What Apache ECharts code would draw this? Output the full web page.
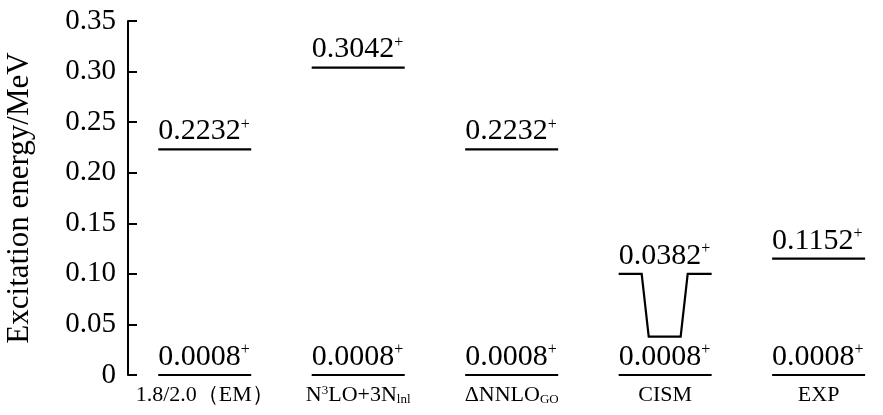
<!DOCTYPE html>
<html>
<head>
<meta charset="utf-8">
<script src="https://cdn.jsdelivr.net/npm/echarts@6/dist/echarts.min.js"></script>
<style>
html,body{margin:0;padding:0;background:#fff;}
#chart{width:883px;height:415px;}
</style>
</head>
<body>
<div id="chart"></div>
<script>
// ---- data ----
const categories = ['1.8/2.0（EM）', 'N{sup|3}LO+3N{sub|lnl}', 'ΔNNLO{sub|GO}', 'CISM', 'EXP'];
const groundEnergy = [0.000, 0.000, 0.000, 0.000, 0.000];
const groundSpin = ['8', '8', '8', '8', '8'];
const excitedEnergy = [0.223, 0.304, 0.223, 0.038, 0.115];
const excitedSpin = ['2', '2', '2', '2', '2'];
const cismLabelLevel = 0.1;   // CISM excited label is drawn raised, connected to its true level
const yTicks = [0, 0.05, 0.10, 0.15, 0.20, 0.25, 0.30, 0.35];

const FONT = '"Liberation Serif", "Times New Roman", serif';

const levelData = [];
for (let i = 0; i < categories.length; i++) {
  levelData.push([i, groundEnergy[i], groundSpin[i], groundEnergy[i]]);
  levelData.push([i, excitedEnergy[i], excitedSpin[i], i === 3 ? cismLabelLevel : excitedEnergy[i]]);
}

const chart = echarts.init(document.getElementById('chart'), null, {renderer: 'canvas'});

function renderItem(params, api) {
  const xi = api.value(0);
  const e = api.value(1);
  const spin = levelData[params.dataIndex][2];
  const shown = api.value(3);
  const p = api.coord([xi, shown]);
  const unit = api.size([1, 0])[0];
  const half = unit * 0.303;
  const children = [];
  const lineStyle = {stroke: '#000', lineWidth: 2.2, fill: null};
  if (Math.abs(shown - e) < 1e-9) {
    children.push({type: 'line', shape: {x1: p[0] - half, y1: p[1], x2: p[0] + half, y2: p[1]}, style: lineStyle});
  } else {
    const q = api.coord([xi, e]);
    const pts = [
      [p[0] - half, p[1]], [p[0] - unit * 0.153, p[1]],
      [p[0] - unit * 0.107, q[1]], [p[0] + unit * 0.101, q[1]],
      [p[0] + unit * 0.147, p[1]], [p[0] + half, p[1]]
    ];
    children.push({type: 'polyline', shape: {points: pts}, style: lineStyle});
  }
  children.push({
    type: 'text',
    style: {
      x: p[0] - half, y: p[1] - 3,
      text: '{n|' + e.toFixed(3) + spin + '}{s|+}',
      align: 'left', verticalAlign: 'bottom',
      rich: {
        n: {fontFamily: FONT, fontSize: 30, fill: '#000', color: '#000', lineHeight: 30},
        s: {fontFamily: FONT, fontSize: 16, fill: '#000', color: '#000', verticalAlign: 'top', lineHeight: 30}
      }
    }
  });
  return {type: 'group', children: children};
}

const option = {
  animation: false,
  backgroundColor: '#fff',
  grid: {left: 128, right: 3, top: 21, bottom: 40, containLabel: false, outerBoundsMode: 'none'},
  xAxis: {
    type: 'value', min: -0.5, max: 4.4, interval: 0.5,
    axisLine: {show: false}, axisTick: {show: false}, splitLine: {show: false},
    axisLabel: {
      margin: 9,
      formatter: function (v) {
        const r = Math.round(v);
        return Math.abs(v - r) < 1e-6 && r >= 0 && r < categories.length ? categories[r] : '';
      },
      color: '#000', fontFamily: FONT, fontSize: 22, lineHeight: 22,
      rich: {
        sup: {fontFamily: FONT, fontSize: 13, color: '#000', verticalAlign: 'top', lineHeight: 22},
        sub: {fontFamily: FONT, fontSize: 13, color: '#000', verticalAlign: 'bottom', lineHeight: 22}
      }
    }
  },
  yAxis: {
    type: 'value', min: 0, max: 0.35, interval: 0.05,
    name: 'Excitation energy/MeV', nameLocation: 'middle', nameGap: 93,
    nameTextStyle: {fontFamily: FONT, fontSize: 31, color: '#000'},
    axisLine: {show: true, onZero: false, lineStyle: {color: '#000', width: 2}},
    axisTick: {show: true, inside: true, length: 9, lineStyle: {color: '#000', width: 2}},
    splitLine: {show: false},
    axisLabel: {
      margin: 12, color: '#000', fontFamily: FONT, fontSize: 29,
      formatter: function (v) {
        const t = yTicks.find(function (k) { return Math.abs(k - v) < 1e-9; });
        return t === 0 ? '0' : (t !== undefined ? t.toFixed(2) : '');
      }
    }
  },
  series: [{
    type: 'custom',
    renderItem: renderItem,
    data: levelData,
    clip: false
  }]
};
chart.setOption(option);
</script>
</body>
</html>
